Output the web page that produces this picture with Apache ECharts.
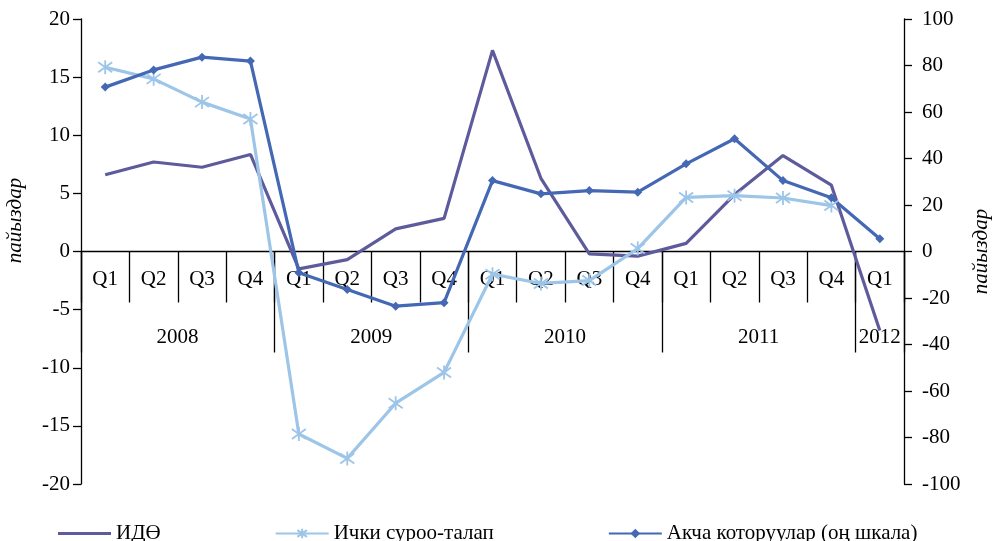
<!DOCTYPE html>
<html>
<head>
<meta charset="utf-8">
<script src="https://cdn.jsdelivr.net/npm/echarts@6/dist/echarts.min.js"></script>
<style>
	html, body { margin: 0; padding: 0; background: #fff; }
	#box { width: 993px; height: 541px; }
</style>
</head>
<body>
<div id="box"></div>
<script>
	// категориялар
	var quarters = ['Q1', 'Q2', 'Q3', 'Q4', 'Q1', 'Q2', 'Q3', 'Q4', 'Q1', 'Q2', 'Q3', 'Q4', 'Q1', 'Q2', 'Q3', 'Q4', 'Q1'];
	var years = ['2008', '2009', '2010', '2011', '2012'];

	// сериялар
	var gdp = [6.6, 7.7, 7.25, 8.35, -1.5, -0.7, 1.95, 2.85, 17.3, 6.3, -0.2, -0.4, 0.7, 4.9, 8.25, 5.7, -6.8];
	var demand = [15.85, 14.85, 12.85, 11.4, -15.7, -17.8, -13.05, -10.4, -1.95, -2.75, -2.5, 0.25, 4.65, 4.8, 4.6, 3.95, null];
	var remit = [70.7, 78.1, 83.6, 81.9, -9.1, -16.3, -23.5, -22.0, 30.5, 24.8, 26.2, 25.5, 37.7, 48.5, 30.5, 23.1, 5.5];

	var names = ['ИДӨ', 'Ички суроо-талап', 'Акча которуулар (оң шкала)'];
	var colors = ['#5e5b9c', '#9cc5e8', '#4468b4'];
	var yearCats = quarters.map(function (q, i) { return years[Math.floor(i / 4)]; });

	var font = '"Liberation Serif", "Times New Roman", serif';
	var asterisk = 'path://M0,0L10,10M10,0L0,10M5,-2L5,12';
	// легенда үчүн жөнөкөй сызык (бийиктигин сактоо үчүн чекиттер)
	var lineIcon = 'path://M0,0L0.05,0L0.05,0.05L0,0.05Z M0,4.4L53,4.4L53,7.6L0,7.6Z M0,11.95L0.05,11.95L0.05,12L0,12Z';

	// нөл сызыгы графиктин ортосунда: торчонун бийиктигинин жарымы
	var gridTop = 19, gridBottom = 57;
	var zeroOffset = -(541 - gridTop - gridBottom) / 2;

	var myChart = echarts.init(document.getElementById('box'));

	var option = {
		color: colors,
		animation: false,
		textStyle: { fontFamily: font, color: '#000' },
		grid: { left: 81, right: 89, top: gridTop, bottom: gridBottom, outerBoundsMode: 'none' },
		legend: {
			data: [{ name: names[0], icon: lineIcon }, names[1], names[2]],
			left: 53,
			top: 518,
			itemWidth: 53,
			itemHeight: 12,
			itemGap: 114,
			textStyle: { fontFamily: font, fontSize: 21, color: '#000' }
		},
		xAxis: [{
			type: 'category',
			position: 'bottom',
			offset: zeroOffset,
			data: quarters,
			axisLine: { onZero: false, lineStyle: { color: '#000', width: 1.3 } },
			axisTick: { show: true, interval: 0, length: 51, lineStyle: { color: '#000', width: 1.3 } },
			axisLabel: { interval: 0, margin: 17, fontFamily: font, fontSize: 21, color: '#000' },
			splitLine: { show: false }
		}, {
			type: 'category',
			position: 'bottom',
			offset: zeroOffset,
			data: yearCats,
			axisLine: { show: false, onZero: false },
			axisTick: {
				show: true,
				interval: function (i) { return i % 4 === 0; },
				length: 101,
				lineStyle: { color: '#000', width: 1.3 }
			},
			axisLabel: {
				interval: function (i) { return i % 4 === 1 || i === 16; },
				margin: 75,
				fontFamily: font,
				fontSize: 21,
				color: '#000',
				formatter: function (v, i) {
					return i === 16 ? '{n|' + v + '}' : '{s|' + v + '}';
				},
				rich: {
					s: { padding: [0, 0, 0, 48], fontFamily: font, fontSize: 21, color: '#000' },
					n: { fontFamily: font, fontSize: 21, color: '#000' }
				}
			},
			splitLine: { show: false }
		}],
		yAxis: [{
			type: 'value',
			min: -20,
			max: 20,
			interval: 5,
			name: 'пайыздар',
			nameLocation: 'middle',
			nameGap: 55,
			nameRotate: 90,
			nameTextStyle: { fontFamily: font, fontStyle: 'italic', fontSize: 21, color: '#000', padding: [0, 0, 0, 62] },
			axisLine: { show: true, onZero: false, lineStyle: { color: '#000', width: 1.3 } },
			axisTick: { show: true, length: 8, lineStyle: { color: '#000', width: 1.3 } },
			axisLabel: { margin: 11, fontFamily: font, fontSize: 21, color: '#000' },
			splitLine: { show: false }
		}, {
			type: 'value',
			min: -100,
			max: 100,
			interval: 20,
			name: 'пайыздар',
			nameLocation: 'middle',
			nameGap: 57,
			nameRotate: 90,
			nameTextStyle: { fontFamily: font, fontStyle: 'italic', fontSize: 21, color: '#000' },
			axisLine: { show: true, onZero: false, lineStyle: { color: '#000', width: 1.3 } },
			axisTick: { show: true, length: 8, lineStyle: { color: '#000', width: 1.3 } },
			axisLabel: { margin: 18, fontFamily: font, fontSize: 21, color: '#000' },
			splitLine: { show: false }
		}],
		series: [{
			name: names[0],
			type: 'line',
			yAxisIndex: 0,
			data: gdp,
			symbol: 'none',
			lineStyle: { width: 3.2, color: colors[0] },
			itemStyle: { color: colors[0] }
		}, {
			name: names[1],
			type: 'line',
			yAxisIndex: 0,
			data: demand,
			symbol: asterisk,
			symbolSize: 14,
			lineStyle: { width: 3.2, color: colors[1] },
			itemStyle: { color: colors[1], borderColor: colors[1], borderWidth: 1.8 }
		}, {
			name: names[2],
			type: 'line',
			yAxisIndex: 1,
			data: remit,
			symbol: 'diamond',
			symbolSize: 9,
			lineStyle: { width: 3.2, color: colors[2] },
			itemStyle: { color: colors[2] }
		}]
	};

	myChart.setOption(option);
</script>
</body>
</html>
